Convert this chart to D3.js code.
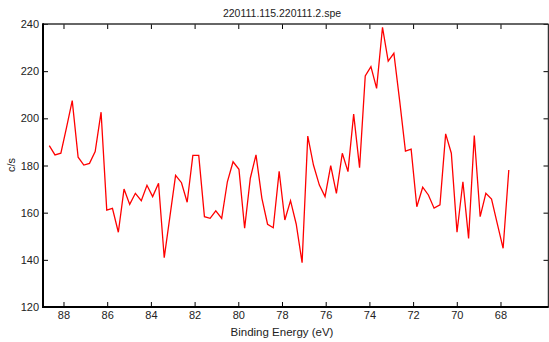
<!DOCTYPE html>
<html>
<head>
<meta charset="utf-8">
<script src="https://cdn.jsdelivr.net/npm/d3@7"></script>
<style>
  html, body { margin: 0; padding: 0; background: #fff; }
  svg { display: block; font-family: "Liberation Sans", Arial, sans-serif; }
</style>
</head>
<body>
<svg id="chart" width="549" height="342"></svg>
<script>
const title = "220111.115.220111.2.spe";
const xLabel = "Binding Energy (eV)";
const yLabel = "c/s";

const energies = [
  88.65, 88.39, 88.12, 87.86, 87.60, 87.33, 87.07, 86.81, 86.55, 86.28,
  86.02, 85.76, 85.49, 85.23, 84.97, 84.71, 84.44, 84.18, 83.92, 83.65,
  83.39, 83.13, 82.87, 82.60, 82.34, 82.08, 81.81, 81.55, 81.29, 81.03,
  80.76, 80.50, 80.24, 79.97, 79.71, 79.45, 79.19, 78.92, 78.66, 78.40,
  78.13, 77.87, 77.61, 77.35, 77.08, 76.82, 76.56, 76.29, 76.03, 75.77,
  75.51, 75.24, 74.98, 74.72, 74.45, 74.19, 73.93, 73.67, 73.40, 73.14,
  72.88, 72.61, 72.35, 72.09, 71.83, 71.56, 71.30, 71.04, 70.77, 70.51,
  70.25, 69.99, 69.72, 69.46, 69.20, 68.93, 68.67, 68.41, 68.15, 67.88,
  67.62
];

const counts = [
  188.4, 184.5, 185.2, 196.2, 207.5, 183.5, 180.2, 180.9, 185.9, 202.6,
  161.1, 161.8, 151.7, 170.0, 163.5, 168.2, 165.1, 171.6, 166.8, 172.5,
  140.9, 158.3, 175.8, 172.7, 164.4, 184.3, 184.3, 158.3, 157.6, 160.8,
  157.6, 173.1, 181.6, 178.4, 153.4, 174.6, 184.5, 166.1, 155.1, 153.6,
  177.5, 156.9, 165.1, 155.2, 138.8, 192.5, 180.2, 171.7, 166.8, 179.9,
  168.2, 185.2, 177.4, 201.8, 179.1, 218.0, 221.9, 212.7, 238.6, 224.3,
  227.6, 207.1, 186.1, 186.9, 162.5, 170.8, 167.5, 161.9, 163.3, 193.4,
  185.2, 151.7, 173.1, 149.1, 192.7, 158.3, 168.2, 165.8, 155.5, 144.9,
  178.1
];

const xTicks = [88, 86, 84, 82, 80, 78, 76, 74, 72, 70, 68];
const yTicks = [120, 140, 160, 180, 200, 220, 240];

const svg = d3.select("#chart");
const pL = 43, pR = 548.5, pT = 24, pB = 307;

const x = d3.scaleLinear().domain([88.938, 65.803]).range([pL, pR]);
const y = d3.scaleLinear().domain([120, 240]).range([pB, pT]);

svg.append("clipPath").attr("id", "clip")
  .append("rect").attr("x", pL).attr("y", pT).attr("width", pR - pL).attr("height", pB - pT);

const data = energies.map((e, i) => ({ e, c: counts[i] }));
svg.append("path")
  .datum(data)
  .attr("clip-path", "url(#clip)")
  .attr("fill", "none")
  .attr("stroke", "#ff0000")
  .attr("stroke-width", 1.3)
  .attr("d", d3.line().x(d => x(d.e)).y(d => y(d.c)));

const tl = 5;
const gB = svg.append("g").attr("transform", `translate(0,${pB})`)
  .call(d3.axisBottom(x).tickValues(xTicks).tickSize(-tl).tickPadding(4).tickFormat(d3.format("d")));
const gT = svg.append("g").attr("transform", `translate(0,${pT})`)
  .call(d3.axisTop(x).tickValues(xTicks).tickSize(-tl).tickFormat(""));
const gL = svg.append("g").attr("transform", `translate(${pL},0)`)
  .call(d3.axisLeft(y).tickValues(yTicks).tickSize(-tl).tickPadding(4).tickFormat(d3.format("d")));
const gR = svg.append("g").attr("transform", `translate(${pR},0)`)
  .call(d3.axisRight(y).tickValues(yTicks).tickSize(-tl).tickFormat(""));

[gB, gT, gL, gR].forEach(g => {
  g.select(".domain").remove();
  g.selectAll(".tick line").attr("stroke", "#000").attr("stroke-width", 1);
  g.selectAll(".tick text").attr("fill", "#222").style("font-size", "11px")
    .style("font-family", "'Liberation Sans', Arial, sans-serif");
});

svg.append("line").attr("x1", pL).attr("x2", pR).attr("y1", pT).attr("y2", pT)
  .attr("stroke", "#333").attr("stroke-width", 1.5);
svg.append("line").attr("x1", pR).attr("x2", pR).attr("y1", pT).attr("y2", pB)
  .attr("stroke", "#333").attr("stroke-width", 1.5);
svg.append("line").attr("x1", pL).attr("x2", pL).attr("y1", pT - 0.75).attr("y2", pB + 1)
  .attr("stroke", "#000").attr("stroke-width", 2);
svg.append("line").attr("x1", pL - 1).attr("x2", pR).attr("y1", pB).attr("y2", pB)
  .attr("stroke", "#000").attr("stroke-width", 2);

svg.append("text").attr("x", 282).attr("y", 17).attr("text-anchor", "middle")
  .style("font-size", "10.5px").attr("fill", "#222").text(title);

svg.append("text").attr("x", 282).attr("y", 336).attr("text-anchor", "middle")
  .style("font-size", "11.5px").attr("fill", "#222").text(xLabel);

svg.append("text").attr("transform", `translate(15,165) rotate(-90)`).attr("text-anchor", "middle")
  .style("font-size", "11px").attr("fill", "#222").text(yLabel);
</script>
</body>
</html>
